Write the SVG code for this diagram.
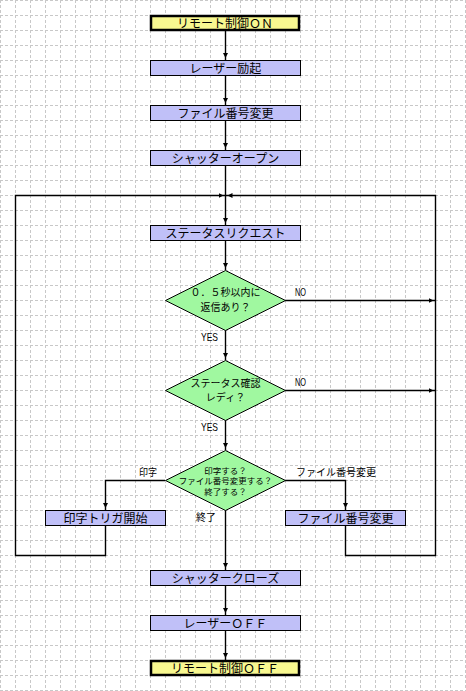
<svg xmlns="http://www.w3.org/2000/svg" width="466" height="691" viewBox="0 0 466 691">
<style>
.grid{stroke:#c8c8c8;stroke-width:1;stroke-dasharray:3 2;fill:none}
.term{fill:#f8f890;stroke:#000;stroke-width:2.5}
.proc{fill:#c0c0f8;stroke:#000;stroke-width:1}
.dec{fill:#a0f8a0;stroke:#000;stroke-width:1}
.t{font-family:"Noto Sans CJK JP","Noto Sans",sans-serif;font-size:12px;fill:#000;text-anchor:middle}
.d{font-family:"Noto Sans CJK JP","Noto Sans",sans-serif;font-size:10px;fill:#000;text-anchor:middle}
.d3{font-family:"Noto Sans CJK JP","Noto Sans",sans-serif;font-size:8.5px;fill:#000;text-anchor:middle}
.lbl{font-family:"Noto Sans CJK JP","Noto Sans",sans-serif;font-size:10px;fill:#000}
.yn{font-family:"Liberation Sans",Arial,sans-serif;font-size:11px;fill:#000}
.ca{stroke:#000;stroke-width:1.4;fill:none;marker-end:url(#ah)}
</style>
<defs>
<marker id="ah" markerUnits="userSpaceOnUse" viewBox="0 0 7 6" markerWidth="7" markerHeight="6" refX="7" refY="3" orient="auto">
<path d="M0,0.5 L5,3 L0,5.5 Z" fill="#000"/>
</marker>
</defs>
<rect width="466" height="691" fill="#fff"/>
<path class="grid" d="M0.5,0V691M15.5,0V691M30.5,0V691M45.5,0V691M60.5,0V691M75.5,0V691M90.5,0V691M105.5,0V691M120.5,0V691M135.5,0V691M150.5,0V691M165.5,0V691M180.5,0V691M195.5,0V691M210.5,0V691M225.5,0V691M240.5,0V691M255.5,0V691M270.5,0V691M285.5,0V691M300.5,0V691M315.5,0V691M330.5,0V691M345.5,0V691M360.5,0V691M375.5,0V691M390.5,0V691M405.5,0V691M420.5,0V691M435.5,0V691M450.5,0V691M465.5,0V691M0,0.5H466M0,15.5H466M0,30.5H466M0,45.5H466M0,60.5H466M0,75.5H466M0,90.5H466M0,105.5H466M0,120.5H466M0,135.5H466M0,150.5H466M0,165.5H466M0,180.5H466M0,195.5H466M0,210.5H466M0,225.5H466M0,240.5H466M0,255.5H466M0,270.5H466M0,285.5H466M0,300.5H466M0,315.5H466M0,330.5H466M0,345.5H466M0,360.5H466M0,375.5H466M0,390.5H466M0,405.5H466M0,420.5H466M0,435.5H466M0,450.5H466M0,465.5H466M0,480.5H466M0,495.5H466M0,510.5H466M0,525.5H466M0,540.5H466M0,555.5H466M0,570.5H466M0,585.5H466M0,600.5H466M0,615.5H466M0,630.5H466M0,645.5H466M0,660.5H466M0,675.5H466M0,690.5H466"/>
<g id="connectors">
<path class="ca" d="M225.5,30V60"/>
<path class="ca" d="M225.5,75V105"/>
<path class="ca" d="M225.5,120V150"/>
<path class="ca" d="M225.5,165V225"/>
<path class="ca" d="M225.5,240V270"/>
<path class="ca" d="M225.5,330V360"/>
<path class="ca" d="M225.5,420V450"/>
<path class="ca" d="M225.5,510V570"/>
<path class="ca" d="M225.5,585V615"/>
<path class="ca" d="M225.5,630V660"/>
<path class="ca" d="M285,300.5H435.5"/>
<path class="ca" d="M285,390.5H435.5"/>
<path class="ca" d="M165,480.5H105.5V510"/>
<path class="ca" d="M285,480.5H345.5V510"/>
<path class="ca" d="M105.5,525V555.5H15.5V195.5H225.5"/>
<path class="ca" d="M345.5,525V555.5H435.5V195.5H225.5"/>
<text class="yn" x="295" y="296" textLength="11" lengthAdjust="spacingAndGlyphs">NO</text>
<text class="yn" x="201" y="341" textLength="17" lengthAdjust="spacingAndGlyphs">YES</text>
<text class="yn" x="295" y="386" textLength="11" lengthAdjust="spacingAndGlyphs">NO</text>
<text class="yn" x="201" y="431" textLength="17" lengthAdjust="spacingAndGlyphs">YES</text>
<text class="lbl" x="139" y="476" textLength="18" lengthAdjust="spacingAndGlyphs">印字</text>
<text class="lbl" x="296" y="476">ファイル番号変更</text>
<text class="lbl" x="196" y="521">終了</text>
</g>
<g id="n1"><rect class="term" x="151" y="16" width="148" height="14"/><text class="t" x="225" y="27.5">リモート制御ＯＮ</text></g>
<g id="n2"><rect class="proc" x="150.5" y="60.5" width="150" height="15"/><text class="t" x="225.5" y="72.5">レーザー励起</text></g>
<g id="n3"><rect class="proc" x="150.5" y="105.5" width="150" height="15"/><text class="t" x="225.5" y="117.5">ファイル番号変更</text></g>
<g id="n4"><rect class="proc" x="150.5" y="150.5" width="150" height="15"/><text class="t" x="225.5" y="162.5">シャッターオープン</text></g>
<g id="n5"><rect class="proc" x="150.5" y="225.5" width="150" height="15"/><text class="t" x="225.5" y="237.5">ステータスリクエスト</text></g>
<g id="d1"><polygon class="dec" points="225.5,270.5 285.5,300.5 225.5,330.5 165.5,300.5"/><text class="d" x="225.5" y="296">０．５秒以内に</text><text class="d" x="225.5" y="310.5">返信あり？</text></g>
<g id="d2"><polygon class="dec" points="225.5,360.5 285.5,390.5 225.5,420.5 165.5,390.5"/><text class="d" x="225.5" y="387">ステータス確認</text><text class="d" x="225.5" y="401">レディ？</text></g>
<g id="d3"><polygon class="dec" points="225.5,450.5 285.5,480.5 225.5,510.5 165.5,480.5"/><text class="d3" x="225.5" y="473.5">印字する？</text><text class="d3" x="225.5" y="484">ファイル番号変更する？</text><text class="d3" x="225.5" y="494.5">終了する？</text></g>
<g id="n6"><rect class="proc" x="45.5" y="510.5" width="120" height="15"/><text class="t" x="105.5" y="522.5">印字トリガ開始</text></g>
<g id="n7"><rect class="proc" x="285.5" y="510.5" width="120" height="15"/><text class="t" x="345.5" y="522.5">ファイル番号変更</text></g>
<g id="n8"><rect class="proc" x="150.5" y="570.5" width="150" height="15"/><text class="t" x="225.5" y="582.5">シャッタークローズ</text></g>
<g id="n9"><rect class="proc" x="150.5" y="615.5" width="150" height="15"/><text class="t" x="225.5" y="627.5">レーザーＯＦＦ</text></g>
<g id="n10"><rect class="term" x="151" y="661" width="148" height="14"/><text class="t" x="225" y="672.5">リモート制御ＯＦＦ</text></g>
</svg>
